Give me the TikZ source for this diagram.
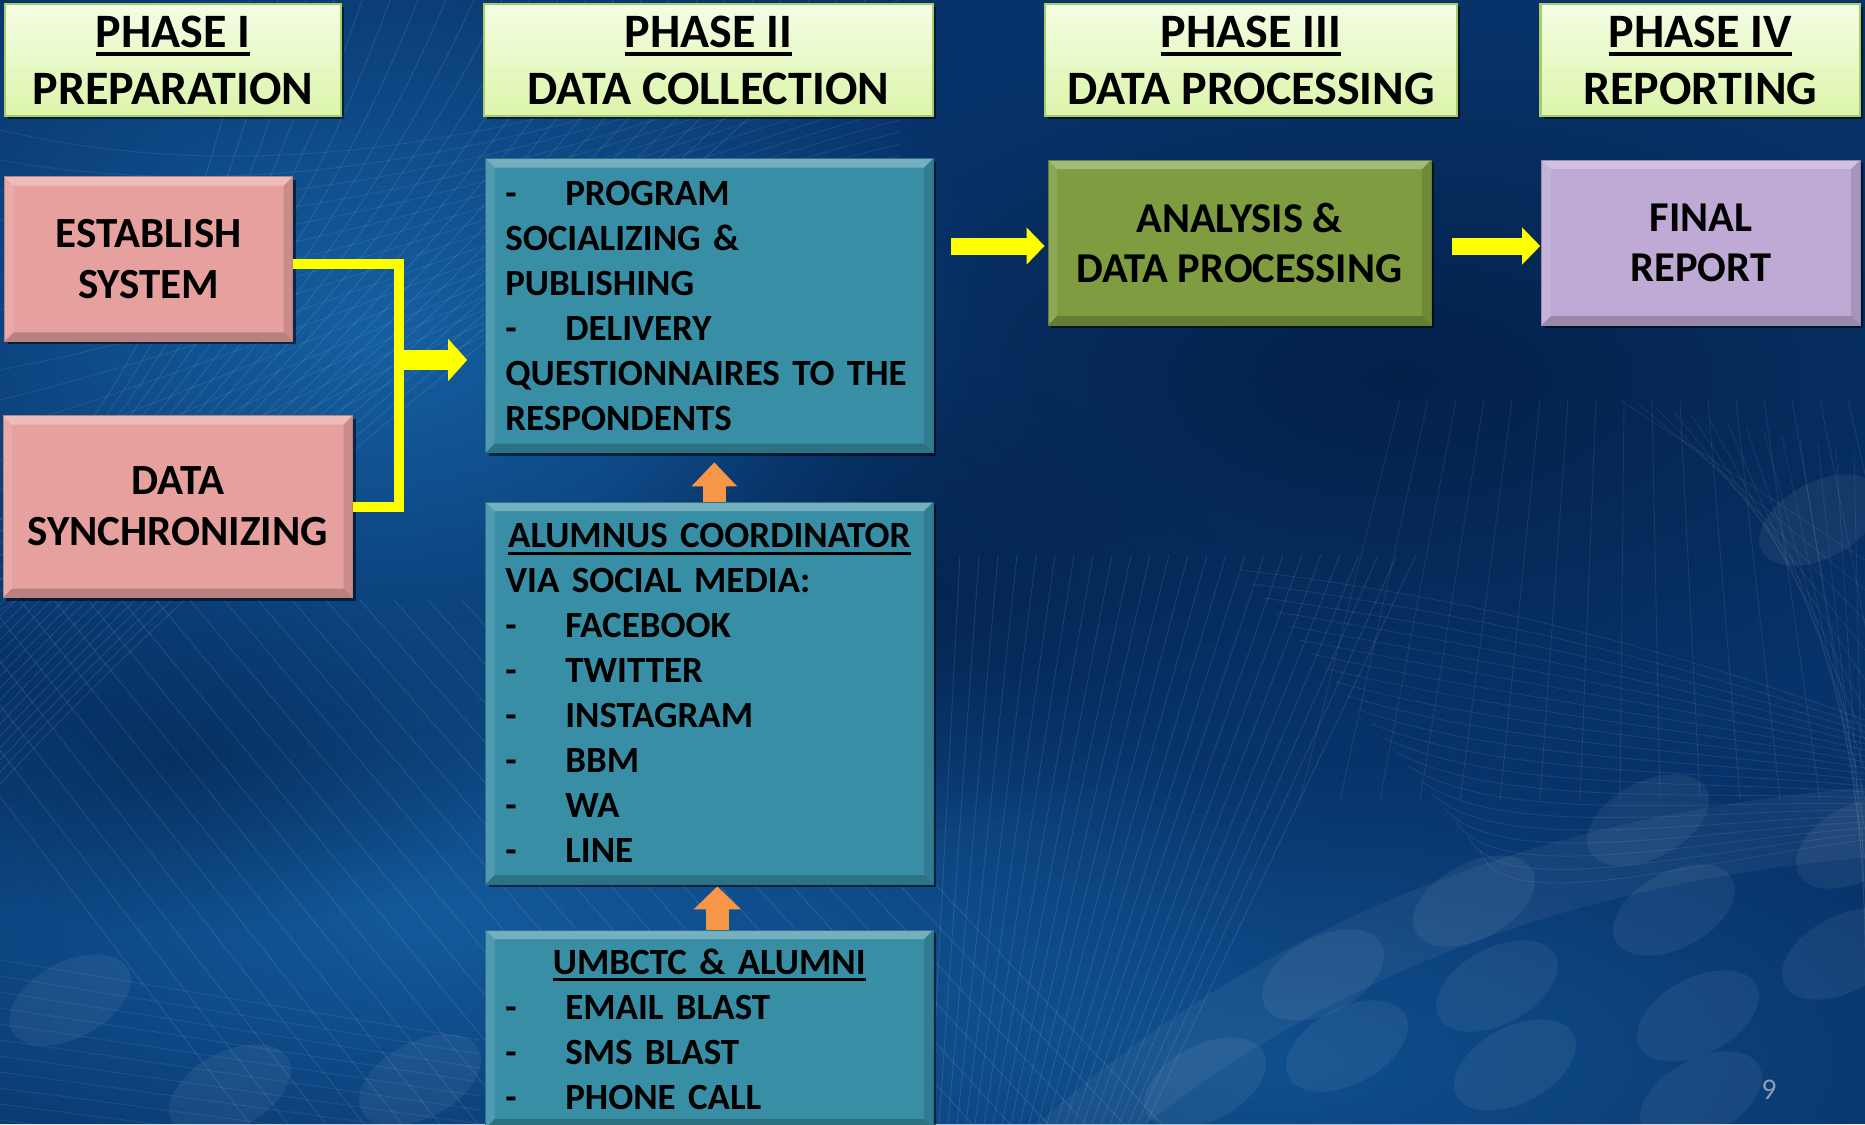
\documentclass[tikz,border=0pt]{standalone}
\usepackage{fontspec}
\setmainfont{Carlito}
\usetikzlibrary{arrows.meta,shadows,calc,fadings}

\definecolor{bgbase}{HTML}{08336A}
\definecolor{bglight}{HTML}{1768AC}
\definecolor{bgdark}{HTML}{031E44}
\definecolor{hdrTop}{HTML}{F4FDE4}
\definecolor{hdrBot}{HTML}{DCF5AA}
\definecolor{hdrLine}{HTML}{A9CC6A}
\definecolor{pinkF}{HTML}{E6A09E}
\definecolor{tealF}{HTML}{388EA5}
\definecolor{greenF}{HTML}{7F9D40}
\definecolor{purpleF}{HTML}{BEAAD4}
\definecolor{arrY}{HTML}{FFFF00}
\definecolor{arrO}{HTML}{F79646}
\definecolor{numgray}{HTML}{8E9BB0}

\tikzfading[name=softglow, inner color=transparent!0, outer color=transparent!100]

\newcommand\uline[1]{\leavevmode\setbox0\hbox{#1}\rlap{\rule[-0.19em]{\wd0}{0.085em}}\box0}
\newcommand\dsh{\makebox[60pt][l]{-}}

\tikzset{
  bevel/.style={path picture={
    \fill[white,opacity=0.30] (path picture bounding box.north west) -- (path picture bounding box.north east)
      -- ([shift={(-9pt,-9pt)}]path picture bounding box.north east) -- ([shift={(9pt,-9pt)}]path picture bounding box.north west) -- cycle;
    \fill[white,opacity=0.12] (path picture bounding box.north west) -- ([shift={(9pt,-9pt)}]path picture bounding box.north west)
      -- ([shift={(9pt,9pt)}]path picture bounding box.south west) -- (path picture bounding box.south west) -- cycle;
    \fill[black,opacity=0.12] (path picture bounding box.north east) -- ([shift={(-9pt,-9pt)}]path picture bounding box.north east)
      -- ([shift={(-9pt,9pt)}]path picture bounding box.south east) -- (path picture bounding box.south east) -- cycle;
    \fill[black,opacity=0.20] (path picture bounding box.south west) -- (path picture bounding box.south east)
      -- ([shift={(-9pt,9pt)}]path picture bounding box.south east) -- ([shift={(9pt,9pt)}]path picture bounding box.south west) -- cycle;
  }},
  shad/.style={drop shadow={shadow xshift=3pt,shadow yshift=-3pt,opacity=0.55,fill=black}},
  hdr/.style={shad,draw=hdrLine,line width=2.5pt,top color=hdrTop,bottom color=hdrBot,
    minimum width=#1,minimum height=112pt,align=center,inner sep=0pt,
    font=\bfseries\fontsize{48}{57}\selectfont},
  pinkbox/.style={shad,bevel,fill=pinkF,draw=pinkF!80!black,line width=0.8pt,align=center,inner sep=0pt,
    font=\bfseries\fontsize{43}{51}\selectfont},
  tealbox/.style={shad,bevel,fill=tealF,draw=tealF!80!black,line width=0.8pt,align=left,
    text width=408pt,inner xsep=19.7pt,inner ysep=0pt,minimum width=447.4pt,
    font=\bfseries\fontsize{37}{45}\selectfont},
  greenbox/.style={shad,bevel,fill=greenF,draw=greenF!80!black,line width=0.8pt,align=center,inner sep=0pt,
    font=\bfseries\fontsize{42.5}{50}\selectfont},
  purplebox/.style={shad,bevel,fill=purpleF,draw=purpleF!80!black,line width=0.8pt,align=center,inner sep=0pt,
    font=\bfseries\fontsize{42.5}{50}\selectfont},
  ybar/.style={draw=arrY,line width=10pt,line join=miter},
  yarrow/.style={draw=arrY,fill=arrY,line width=#1},
  oarrow/.style={draw=arrO,fill=arrO,line width=23pt},
  bgline/.style={white,opacity=#1,line width=0.9pt},
}

\begin{document}
\begin{tikzpicture}[x=1pt,y=-1pt]
\useasboundingbox (0,0) rectangle (1865,1124);
\clip (0,0) rectangle (1865,1124);

% ---------- background ----------
\fill[bgbase] (0,0) rectangle (1865,1124);
\fill[bglight,path fading=softglow,opacity=0.85] (380,330) ellipse [x radius=620pt,y radius=430pt];
\fill[bglight,path fading=softglow,opacity=0.75] (450,920) ellipse [x radius=850pt,y radius=330pt];
\fill[bglight,path fading=softglow,opacity=0.55] (1250,1060) ellipse [x radius=800pt,y radius=300pt];
\fill[bgdark,path fading=softglow,opacity=0.85] (1400,380) ellipse [x radius=700pt,y radius=360pt];
\fill[bgdark,path fading=softglow,opacity=0.6] (900,600) ellipse [x radius=330pt,y radius=230pt];
\fill[bgdark,path fading=softglow,opacity=0.5] (180,760) ellipse [x radius=330pt,y radius=170pt];
% mesh surface, top left
\foreach \i in {0,...,22}{
  \draw[bgline=0.10] (250+\i*28,0) .. controls (200+\i*20,250) and (120+\i*10,420) .. (0,520+\i*12);
}
\foreach \i in {0,...,16}{
  \draw[bgline=0.08] (0,130+\i*30) .. controls (300,200+\i*14) and (600,120+\i*8) .. (900,\i*12);
}
% diagonal streaks, lower left
\foreach \i in {0,...,24}{
  \draw[bgline=0.10] (-150+\i*34,600) -- (250+\i*38,1124);
}
\foreach \i in {0,...,10}{
  \draw[bgline=0.08] (0,960+\i*16) -- (480,1040+\i*14);
}
% fan and mesh, lower right
\foreach \i in {0,...,24}{
  \draw[bgline=0.10] (960+\i*19,555) -- (930+\i*9,1124);
}
\foreach \i in {0,...,20}{
  \draw[bgline=0.08] (1240+\i*12,570+\i*14) .. controls (1500,600+\i*16) and (1700,660+\i*10) .. (1865,720+\i*6);
}
\foreach \i in {0,...,16}{
  \draw[bgline=0.08] (1400+\i*28,400) -- (1300+\i*40,800);
}
\foreach \i in {0,...,14}{
  \draw[bgline=0.07] (1620+\i*18,400+\i*4) -- (1865,560+\i*30);
}
\draw[white,opacity=0.05,line width=70pt] (1050,1160) .. controls (1300,930) and (1600,840) .. (1900,820);
% soft ellipses
\foreach \px/\py in {1474/901,1674/910,1497/986,1698/1016,1323/975,1857/843,1648/820,1347/1046,1515/1065,1701/1097,1205/1083,1843/954,1820/520,70/1000,230/1090,420/1080}{
  \fill[white,opacity=0.06,rotate around={28:(\px,\py)}] (\px,\py) ellipse [x radius=66pt,y radius=38pt];
}

% ---------- headers ----------
\node[hdr=336pt] (h1) at (172.9,60.1) {\uline{PHASE I}\\PREPARATION};
\node[hdr=449pt] (h2) at (708.5,60.1) {\uline{PHASE II}\\DATA COLLECTION};
\node[hdr=412pt] (h3) at (1251,60.1) {\uline{PHASE III}\\DATA PROCESSING};
\node[hdr=319.5pt] (h4) at (1700.3,60.1) {\uline{PHASE IV}\\REPORTING};

% ---------- phase I ----------
\node[pinkbox,minimum width=287.8pt,minimum height=164.6pt] (est) at (148.7,259) {ESTABLISH\\SYSTEM};
\node[pinkbox,minimum width=349.5pt,minimum height=182pt] (sync) at (177.75,506.5) {DATA\\SYNCHRONIZING};

% ---------- phase II ----------
\node[tealbox,minimum height=294pt] (box1) at (709.3,305.5) {%
\dsh PROGRAM\\
SOCIALIZING \&\\
PUBLISHING\\
\dsh DELIVERY\\
QUESTIONNAIRES TO THE\\
RESPONDENTS};

\node[tealbox,minimum height=382pt] (box2) at (709.3,693) {%
\makebox[408pt]{\uline{ALUMNUS COORDINATOR}}\\
VIA SOCIAL MEDIA:\\
\dsh FACEBOOK\\
\dsh TWITTER\\
\dsh INSTAGRAM\\
\dsh BBM\\
\dsh WA\\
\dsh LINE};

\node[tealbox,minimum height=198pt] (box3) at (709.3,1029) {%
\makebox[408pt]{\uline{UMBCTC \& ALUMNI}}\\
\dsh EMAIL BLAST\\
\dsh SMS BLAST\\
\dsh PHONE CALL};

% ---------- phase III / IV ----------
\node[greenbox,minimum width=383pt,minimum height=165pt] (ana) at (1239.5,242.5) {ANALYSIS \&\\DATA PROCESSING};
\node[purplebox,minimum width=318.2pt,minimum height=165pt] (fin) at (1700.9,242.5) {FINAL\\REPORT};

% ---------- connectors ----------
\coordinate (jn) at (399,360);
\draw[ybar] ([yshift=-5pt]est.east) -| (jn |- sync.east) -- (sync.east);
\draw[ybar] ([yshift=-5pt]est.east) -- ++(12,0);
\draw[yarrow=20pt,-{Triangle[length=19pt,width=41pt]},shorten >=18pt] (jn) -- (jn -| box1.west);

\draw[yarrow=17pt,-{Triangle[length=18pt,width=36pt]},shorten <=17.6pt,shorten >=3pt]
  ($(box1.east |- ana.west)+(0,3.5)$) -- ($(ana.west)+(0,3.5)$);
\draw[yarrow=17pt,-{Triangle[length=18pt,width=36pt]},shorten <=21pt,shorten >=1.2pt]
  ($(ana.east)+(0,3.5)$) -- ($(fin.west)+(0,3.5)$);

\draw[oarrow,-{Triangle[length=24pt,width=44pt]},shorten >=9.4pt]
  ([xshift=5pt]box2.north) -- ([xshift=5pt]box1.south);
\draw[oarrow,-{Triangle[length=23pt,width=46pt]},shorten >=2pt]
  ([xshift=8pt]box3.north) -- ([xshift=8pt]box2.south);

% page number
\node[font=\fontsize{30}{30}\selectfont,text=numgray,inner sep=0pt] (pg) at (1769,1090) {9};
\end{tikzpicture}
\end{document}
